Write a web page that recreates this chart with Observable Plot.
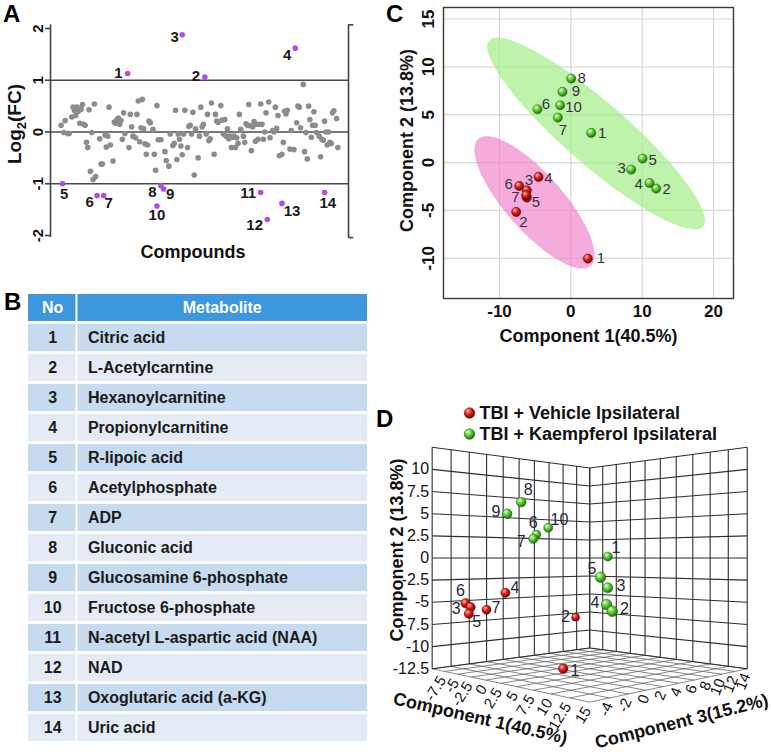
<!DOCTYPE html>
<html><head><meta charset="utf-8">
<script src="https://cdn.jsdelivr.net/npm/d3@7"></script>
<script src="https://cdn.jsdelivr.net/npm/@observablehq/plot@0.6"></script>
<style>
body{margin:0;background:#fff;}
#fig{position:relative;width:771px;height:752px;overflow:hidden;font-family:Arial,"Liberation Sans",sans-serif;}
.plab{position:absolute;font-weight:bold;font-size:24px;line-height:1;color:#000;}
</style></head><body><div id="fig"></div>
<script>
// ---------------- DATA ----------------
// Panel A: compound index and log2 fold change (non-significant compounds)
const otherCompounds = [
 [8,0.13],[10,-0.01],[11,0.22],[13,-0.03],[14,-0.03],[16,0.29],[17,0.48],[18,0.42],[19,0.32],[20,0.48],
 [21,0.40],[22,0.17],[23,0.44],[24,0.53],[25,0.15],[26,0.13],[27,-0.20],[28,-0.30],[29,0.43],[30,-0.76],
 [31,-0.01],[32,-0.92],[33,0.54],[34,-0.86],[37,-0.13],[38,-0.62],[39,-0.62],[41,-0.06],[42,-0.29],[43,-0.08],
 [44,0.48],[45,-0.25],[47,-0.56],[48,0.19],[49,0.17],[50,0.24],[51,0.27],[52,0.15],[53,0.22],[54,-0.14],
 [55,0.37],[56,-0.03],[59,-0.30],[60,0.34],[61,0.10],[62,-0.08],[64,-0.11],[65,0.34],[66,0.60],[67,-0.19],
 [68,0.08],[69,0.63],[70,0.06],[71,-0.23],[72,-0.43],[73,-0.25],[74,0.21],
 [75,0.18],[77,0.05],[78,-0.43],[79,-0.74],[80,0.51],[81,-0.15],[83,-0.15],[86,-0.38],[87,-0.55],[89,-0.66],
 [90,-0.04],[92,-0.26],[93,-0.22],[94,0.42],[95,-0.53],[96,-0.04],[97,-0.14],[98,-0.27],[99,-0.44],[100,-0.04],
 [101,0.42],[103,-0.30],[104,0.11],[105,0.13],[106,-0.04],[107,0.38],[108,-0.83],[109,0.06],[111,-0.50],[112,-0.08],
 [113,0.48],[114,0.10],[115,0.15],[117,-0.04],[118,0.34],[119,-0.17],[120,-0.13],[121,0.56],[123,-0.43],[124,0.34],
 [125,0.21],[126,0.19],[128,0.51],[129,0.23],[130,-0.04],[131,0.24],[132,-0.08],[133,0.06],[134,-0.13],[135,-0.08],
 [136,-0.30],[137,-0.10],[138,-0.08],[139,-0.30],[140,-0.11],[141,-0.22],[142,0.34],
 [143,0.05],[145,-0.08],[146,-0.20],[147,0.16],[148,0.13],[149,0.53],[150,0.12],[151,-0.36],[152,0.10],[153,0.20],
 [154,-0.18],[155,0.15],[156,-0.14],[157,0.15],[158,0.54],[159,0.15],[160,-0.14],[161,0.00],[162,0.37],[164,0.58],
 [165,-0.11],[167,0.03],[168,0.00],[169,0.48],[170,0.07],[171,0.32],[172,-0.46],[174,-0.43],[175,-0.20],[176,0.40],
 [177,0.35],[178,0.42],[180,-0.33],[181,0.03],[183,-0.34],[185,0.18],[186,0.50],[187,0.48],[188,0.08],[190,0.92],
 [191,-0.38],[192,-0.01],[193,-0.52],[194,0.50],[195,0.24],[196,-0.10],[197,0.13],[198,0.39],[199,0.13],[200,-0.01],
 [202,-0.08],[203,-0.48],[204,-0.14],[205,-0.16],[206,0.21],[207,0.00],[208,-0.25],[209,0.00],[210,-0.20],[211,-0.22],
 [212,0.37],[213,0.41],[215,0.26],[216,-0.30]
];
// Panel A: significant compounds (numbered)
const sigNo  = [1,2,3,4,5,6,7,8,9,10,11,12,13,14];
const sigIdx = [58,116,99,184,9,35,40,83,85,80,158,163,174,206];
const sigFC  = [1.13,1.06,1.88,1.62,-1.00,-1.23,-1.23,-1.04,-1.10,-1.43,-1.17,-1.69,-1.38,-1.17];
const fcThresholds = [1, 0, -1];
const fcTicks = [2, 1, 0, -1, -2];

// Panel B: table
const tableHeader = ["No", "Metabolite"];
const metaboliteNo = [1,2,3,4,5,6,7,8,9,10,11,12,13,14];
const metaboliteName = ["Citric acid","L-Acetylcarntine","Hexanoylcarnitine","Propionylcarnitine","R-lipoic acid",
 "Acetylphosphate","ADP","Gluconic acid","Glucosamine 6-phosphate","Fructose 6-phosphate",
 "N-acetyl L-aspartic acid (NAA)","NAD","Oxoglutaric acid (a-KG)","Uric acid"];

// Panel C: PCA scores (component 1, component 2)
const vehNo  = [1,2,3,4,5,6,7];
const vehPC1 = [2.38,-7.66,-6.17,-4.53,-6.17,-7.24,-6.26];
const vehPC2 = [-10.03,-5.16,-2.89,-1.50,-3.66,-2.44,-3.41];
const kaeNo  = [1,2,3,4,5,6,7,8,9,10];
const kaePC1 = [2.85,11.96,8.46,11.03,10.05,-4.67,-1.82,0.05,-1.17,-1.50];
const kaePC2 = [3.10,-2.72,-0.73,-2.13,0.42,5.57,4.70,8.78,7.39,5.99];
const cTicksX = [-10, 0, 10, 20];
const cTicksY = [15, 10, 5, 0, -5, -10];

// Panel D: 3D scores (component 1, component 2, component 3)
const vehD1 = [2.38,-7.66,-6.17,-4.53,-6.17,-7.24,-6.26];
const vehD2 = [-12.05,-7.78,-5.48,-3.95,-6.20,-5.09,-5.90];
const vehD3 = [0.85,10.04,-4.00,-1.13,-4.18,-3.95,-2.21];
const kaeD1 = [2.85,11.96,8.46,11.03,10.05,-4.67,-1.82,0.05,-1.17,-1.50];
const kaeD2 = [0.17,-5.12,-3.07,-4.53,-1.89,2.79,2.16,5.98,4.75,3.45];
const kaeD3 = [6.07,-1.13,1.33,-0.98,-0.84,2.64,0.31,-2.30,-3.04,1.87];
const dGridX = [-10,-7.5,-5,-2.5,0,2.5,5,7.5,10,12.5,15];
const dGridY = [-12.5,-10,-7.5,-5,-2.5,0,2.5,5,7.5,10,12.5];
const dGridZ = [-6,-4,-2,0,2,4,6,8,10,12,14];
const dLabX = [-7.5,-5,-2.5,0,2.5,5,7.5,10,12.5,15];
const dLabY = [10,7.5,5,2.5,0,-2.5,-5,-7.5,-10,-12.5];
const dLabZ = [-4,-2,0,2,4,6,8,10,12,14];
const groupNames = ["TBI + Vehicle Ipsilateral", "TBI + Kaempferol Ipsilateral"];

// ---------------- HELPERS ----------------
const FONT = "Arial, 'Liberation Sans', sans-serif";
const fig = document.getElementById("fig");
function place(el, left, top) { el.style.position = "absolute"; el.style.left = left + "px"; el.style.top = top + "px"; fig.appendChild(el); return el; }
function letter(t, left, top) { const d = document.createElement("div"); d.className = "plab"; d.textContent = t; place(d, left, top); }
function addGrad(svg, list) {
  const defs = d3.select(svg).insert("defs", ":first-child");
  for (const [id, c0, c1, c2] of list) {
    const g = defs.append("radialGradient").attr("id", id).attr("cx", "40%").attr("cy", "38%").attr("r", "62%").attr("fx", "34%").attr("fy", "28%");
    g.append("stop").attr("offset", "0%").attr("stop-color", c0);
    g.append("stop").attr("offset", "50%").attr("stop-color", c1);
    g.append("stop").attr("offset", "100%").attr("stop-color", c2);
  }
}
const GREEN = ["#e4ffcf", "#5ccf34", "#1d6e0c"], RED = ["#ffb7a8", "#e0201a", "#6e0000"];
function svgText(svg, txt, x, y, rot, size, opts = {}) {
  return d3.select(svg).append("text").attr("transform", `translate(${x},${y}) rotate(${rot})`)
    .attr("text-anchor", opts.anchor || "middle").attr("font-family", FONT).attr("font-size", size)
    .attr("font-weight", opts.weight || "bold").attr("fill", opts.fill || "#111").text(txt);
}
function confEllipse(xs, ys, k = 2.4477, n = 120) {
  const N = xs.length, mx = d3.mean(xs), my = d3.mean(ys);
  let sxx = 0, syy = 0, sxy = 0;
  for (let i = 0; i < N; i++) { const dx = xs[i] - mx, dy = ys[i] - my; sxx += dx * dx; syy += dy * dy; sxy += dx * dy; }
  sxx /= N - 1; syy /= N - 1; sxy /= N - 1;
  const tr = sxx + syy, det = sxx * syy - sxy * sxy, q = Math.sqrt(tr * tr / 4 - det);
  const l1 = tr / 2 + q, l2 = tr / 2 - q, th = 0.5 * Math.atan2(2 * sxy, sxx - syy);
  const A = k * Math.sqrt(l1), B = k * Math.sqrt(l2), ct = Math.cos(th), st = Math.sin(th);
  return d3.range(n).map(i => { const t = 2 * Math.PI * i / n; const u = A * Math.cos(t), v = B * Math.sin(t); return {x: mx + u * ct - v * st, y: my + u * st + v * ct}; });
}

// ---------------- PANEL A ----------------
{
  const gray = otherCompounds.map(([i, v]) => ({i, v}));
  const sig = sigNo.map((n, k) => ({n, i: sigIdx[k], v: sigFC[k]}));
  const aLab = [[-5,0,"end"],[-4.7,-1,"end"],[-3.3,2,"end"],[-4,7,"end"],[1.7,10.5,"middle"],[-3.3,7,"end"],[0.7,8,"start"],
                [-4.3,6,"end"],[2.3,5,"start"],[0,9.3,"middle"],[-4.7,1,"end"],[-4.3,6,"end"],[1.7,7.3,"start"],[3.3,11,"middle"]];
  const svg = Plot.plot({
    width: 360, height: 270, marginLeft: 50, marginRight: 12, marginTop: 28, marginBottom: 35,
    style: {fontFamily: FONT, background: "transparent", overflow: "visible"},
    x: {domain: [0, 224], axis: null}, y: {domain: [-2, 2], axis: null},
    marks: [
      Plot.ruleY(fcThresholds, {stroke: "#4a4a4a", strokeWidth: 1.6}),
      Plot.ruleX([0], {y1: -2.04, y2: 2.07, stroke: "#444", strokeWidth: 1.6}),
      Plot.ruleY(fcTicks, {x1: -3.8, x2: 0, stroke: "#444", strokeWidth: 1.6}),
      Plot.ruleX([224], {y1: -2.04, y2: 2.07, stroke: "#444", strokeWidth: 1.6}),
      Plot.ruleY([-2.04, 2.07], {x1: 224, x2: 228, stroke: "#444", strokeWidth: 1.6}),
      Plot.text(fcTicks, {x: 0, y: d => d, text: d => String(d), rotate: -90, dx: -12.5, textAnchor: "middle", lineAnchor: "middle", fontWeight: "bold", fontSize: 15, fill: "#111"}),
      Plot.dot(gray, {x: "i", y: "v", r: 2.8, fill: "#8c8c8c"}),
      Plot.dot(sig, {x: "i", y: "v", r: 2.8, fill: "#b04ee8"}),
      ...sig.map((d, k) => Plot.text([d], {x: "i", y: "v", text: d => String(d.n), dx: aLab[k][0], dy: aLab[k][1], textAnchor: aLab[k][2], fontWeight: "bold", fontSize: 15, fill: "#1a1a1a"}))
    ]
  });
  const t = d3.select(svg).append("text").attr("transform", "translate(21,124) rotate(-90)").attr("text-anchor", "middle")
    .attr("font-family", FONT).attr("font-weight", "bold").attr("font-size", 19).attr("fill", "#111");
  t.append("tspan").text("Log");
  t.append("tspan").attr("font-size", 13).attr("dy", 5).text("2");
  t.append("tspan").attr("dy", -5).text("(FC)");
  svgText(svg, "Compounds", 193, 258, 0, 18);
  place(svg, 0, 0);
  letter("A", 3, 2);
}

// ---------------- PANEL B ----------------
{
  const rows = [{key: "h", no: tableHeader[0], name: tableHeader[1], kind: "head"},
    ...metaboliteNo.map((n, i) => ({key: String(n), no: String(n), name: metaboliteName[i], kind: i % 2 === 0 ? "odd" : "even"}))];
  const fillB = {head: "#3d97dd", odd: "#c6dbef", even: "#e4ebf5"};
  const svg = Plot.plot({
    width: 339, height: 457, margin: 0,
    style: {fontFamily: FONT, background: "transparent", overflow: "visible"},
    x: {domain: [0, 7], axis: null},
    y: {type: "band", domain: rows.map(d => d.key), paddingInner: 0.09, paddingOuter: 0.02, axis: null},
    color: {type: "identity"},
    marks: [
      Plot.barX(rows, {x1: 0, x2: 1, y: "key", fill: d => fillB[d.kind], insetRight: 1}),
      Plot.barX(rows, {x1: 1, x2: 7, y: "key", fill: d => fillB[d.kind], insetLeft: 1}),
      Plot.text(rows, {x: 0.5, y: "key", text: "no", fill: d => d.kind === "head" ? "#ffffff" : "#1a1a1a", fontWeight: "bold", fontSize: 16}),
      Plot.text(rows.filter(d => d.kind === "head"), {x: 4, y: "key", text: "name", fill: "#ffffff", fontWeight: "bold", fontSize: 16}),
      Plot.text(rows.filter(d => d.kind !== "head"), {x: 1, dx: 11, y: "key", text: "name", textAnchor: "start", fill: "#1a1a1a", fontWeight: "bold", fontSize: 16})
    ]
  });
  place(svg, 28, 289);
  letter("B", 4, 290);
}

// ---------------- PANEL C ----------------
{
  const veh = vehNo.map((n, i) => ({n, x: vehPC1[i], y: vehPC2[i]}));
  const kae = kaeNo.map((n, i) => ({n, x: kaePC1[i], y: kaePC2[i]}));
  const cVehLab = [[9,0,"start"],[3,10,"start"],[2,-10,"middle"],[5.7,1.7,"start"],[5,5,"start"],[-6.3,-1.3,"end"],[-6.7,1.7,"end"]];
  const cKaeLab = [[6.7,0.7,"start"],[6.3,1,"start"],[-5.3,-1,"end"],[-6.7,1.7,"end"],[6,1.7,"start"],[4.3,-4.7,"start"],[5,12.7,"middle"],[6.3,0,"start"],[9.3,-1,"start"],[5,2.3,"start"]];
  const labMarks = (arr, offs) => arr.map((d, k) => Plot.text([d], {x: "x", y: "y", text: d => String(d.n), dx: offs[k][0], dy: offs[k][1], textAnchor: offs[k][2], fontSize: 15, fill: "#333340"}));
  const svg = Plot.plot({
    width: 401, height: 352, marginLeft: 73, marginRight: 38, marginTop: 7, marginBottom: 54,
    style: {fontFamily: FONT, background: "transparent", overflow: "visible"},
    x: {domain: [-17.85, 22.8], axis: null}, y: {domain: [-14.2, 16.2], axis: null},
    marks: [
      Plot.ruleX(cTicksX, {stroke: "#d8d8d8", strokeWidth: 1.2}),
      Plot.ruleY(cTicksY, {stroke: "#d8d8d8", strokeWidth: 1.2}),
      Plot.line(confEllipse(kaePC1, kaePC2), {x: "x", y: "y", curve: "linear-closed", fill: "#a6ee8a", fillOpacity: 0.72, stroke: "none"}),
      Plot.line(confEllipse(vehPC1, vehPC2), {x: "x", y: "y", curve: "linear-closed", fill: "#ef7fcb", fillOpacity: 0.65, stroke: "none"}),
      Plot.dot(veh, {x: "x", y: "y", r: 4.6, fill: "url(#cR)", stroke: "#5a0808", strokeWidth: 0.5}),
      Plot.dot(kae, {x: "x", y: "y", r: 4.6, fill: "url(#cG)", stroke: "#25590f", strokeWidth: 0.5}),
      ...labMarks(veh, cVehLab), ...labMarks(kae, cKaeLab),
      Plot.frame({stroke: "#3a3a3a", strokeWidth: 1.4}),
      Plot.text(cTicksX, {x: d => d, frameAnchor: "bottom", dy: 13, textAnchor: "middle", lineAnchor: "middle", text: d => String(d), fontWeight: "bold", fontSize: 17, fill: "#111"}),
      Plot.text(cTicksY, {y: d => d, frameAnchor: "left", dx: -14.5, rotate: -90, textAnchor: "middle", lineAnchor: "middle", text: d => String(d), fontWeight: "bold", fontSize: 17, fill: "#111"}),
      Plot.text(["Component 1(40.5%)"], {frameAnchor: "bottom", dy: 38, textAnchor: "middle", lineAnchor: "middle", text: d => d, fontWeight: "bold", fontSize: 18, fill: "#111"}),
      Plot.text(["Component 2 (13.8%)"], {frameAnchor: "left", dx: -36.5, dy: -12.5, rotate: -90, textAnchor: "middle", lineAnchor: "middle", text: d => d, fontWeight: "bold", fontSize: 18, fill: "#111"})
    ]
  });
  addGrad(svg, [["cG", ...GREEN], ["cR", ...RED]]);
  place(svg, 370, 0);
  letter("C", 386, 2);
}

// ---------------- PANEL D ----------------
{
  // perspective view of the 3D box (camera parameters)
  const cam = {D: 6.11, cx: 209.2, cy: 177.5, sx: 111.4, sy: 110.8};
  const bx = [dGridX[0], dGridX[dGridX.length - 1]], by = [dGridY[0], dGridY[dGridY.length - 1]], bz = [dGridZ[0], dGridZ[dGridZ.length - 1]];
  function project(X, Y, Z) {
    const a = 2 * (X - bx[0]) / (bx[1] - bx[0]) - 1, h = 2 * (Y - by[0]) / (by[1] - by[0]) - 1, c = 2 * (Z - bz[0]) / (bz[1] - bz[0]) - 1;
    const u = (a + c) / Math.SQRT2, dz = (a - c) / Math.SQRT2, s = cam.D / (cam.D - dz);
    return {px: cam.cx + cam.sx * u * s, py: cam.cy - cam.sy * h * s, s};
  }
  const seg = (p, q, kind) => { const A = project(...p), B = project(...q); return {x1: A.px, y1: A.py, x2: B.px, y2: B.py, kind}; };
  const segs = [];
  for (const z of dGridZ) segs.push(seg([bx[0], by[0], z], [bx[0], by[1], z], "wall"));
  for (const y of dGridY) segs.push(seg([bx[0], y, bz[0]], [bx[0], y, bz[1]], "wall"));
  for (const x of dGridX) segs.push(seg([x, by[0], bz[1]], [x, by[1], bz[1]], "wall"));
  for (const y of dGridY) segs.push(seg([bx[0], y, bz[1]], [bx[1], y, bz[1]], "wall"));
  for (const x of dGridX) segs.push(seg([x, by[0], bz[0]], [x, by[0], bz[1]], "floor"));
  for (const z of dGridZ) segs.push(seg([bx[0], by[0], z], [bx[1], by[0], z], "floor"));

  const dVehLab = [[7.3,1.7,"start"],[-5.7,0,"end"],[-10,1.7,"end"],[5,-5,"start"],[7.7,8.3,"middle"],[-5,-12,"middle"],[5,-2,"start"]];
  const dKaeLab = [[3.7,-8.7,"start"],[7.7,-2.3,"start"],[8.7,-1.7,"start"],[-7,-1.3,"end"],[-4,-8.3,"end"],[-3.3,-11.3,"middle"],[-7.7,3.3,"end"],[7,-12,"middle"],[-6.7,-2,"end"],[2.3,-8.3,"start"]];
  const pts = [
    ...vehNo.map((n, i) => ({n, g: "veh", lab: dVehLab[i], ...project(vehD1[i], vehD2[i], vehD3[i])})),
    ...kaeNo.map((n, i) => ({n, g: "kae", lab: dKaeLab[i], ...project(kaeD1[i], kaeD2[i], kaeD3[i])}))
  ].sort((a, b) => a.s - b.s);

  const yl = dLabY.map(v => ({v, ...project(bx[0], v, bz[0])}));
  const xl = dLabX.map(v => ({v, ...project(v, by[0], bz[0])}));
  const zl = dLabZ.map(v => ({v, ...project(bx[1], by[0], v)}));

  const svg = Plot.plot({
    width: 391, height: 372, margin: 0,
    style: {fontFamily: FONT, background: "transparent", overflow: "visible"},
    x: {type: "identity", axis: null}, y: {type: "identity", axis: null}, r: {type: "identity"}, color: {type: "identity"},
    marks: [
      Plot.link(segs.filter(d => d.kind === "floor"), {x1: "x1", y1: "y1", x2: "x2", y2: "y2", stroke: "#6a6a6a", strokeWidth: 0.8}),
      Plot.link(segs.filter(d => d.kind === "wall"), {x1: "x1", y1: "y1", x2: "x2", y2: "y2", stroke: "#2e2e2e", strokeWidth: 1.1}),
      Plot.text(yl, {x: "px", y: "py", text: d => String(d.v), dx: -3, textAnchor: "end", fontSize: 16, fill: "#111"}),
      Plot.text(xl, {x: "px", y: "py", text: d => String(d.v), dx: -2, dy: 6, rotate: -58, textAnchor: "end", fontSize: 15, fill: "#111"}),
      Plot.text(zl, {x: "px", y: "py", text: d => String(d.v), dx: -1, dy: 5, rotate: -68, textAnchor: "end", fontSize: 15, fill: "#111"}),
      Plot.dot(pts, {x: "px", y: "py", r: d => 4.6 * d.s, fill: d => d.g === "veh" ? "url(#dR)" : "url(#dG)", stroke: d => d.g === "veh" ? "#5a0808" : "#25590f", strokeWidth: 0.5, sort: null}),
      ...pts.map(d => Plot.text([d], {x: "px", y: "py", text: d => String(d.n), dx: d.lab[0], dy: d.lab[1], textAnchor: d.lab[2], fontSize: 16, fill: "#262640"}))
    ]
  });
  addGrad(svg, [["dG", ...GREEN], ["dR", ...RED]]);
  svgText(svg, "Component 2 (13.8%)", 23, 170, -90, 18);
  svgText(svg, "Component 1(40.5%)", 99, 344, 13, 18);
  svgText(svg, "Component 3(15.2%)", 303, 347, -14, 18);
  place(svg, 380, 380);

  // legend
  const leg = Plot.plot({
    width: 300, height: 46, margin: 0,
    style: {fontFamily: FONT, background: "transparent", overflow: "visible"},
    x: {axis: null}, y: {type: "band", domain: groupNames, axis: null}, color: {type: "identity"},
    marks: [
      Plot.dot(groupNames, {y: d => d, frameAnchor: "left", dx: 9, r: 5.3, fill: d => d === groupNames[0] ? "url(#lR)" : "url(#lG)", stroke: d => d === groupNames[0] ? "#5a0808" : "#25590f", strokeWidth: 0.5}),
      Plot.text(groupNames, {y: d => d, frameAnchor: "left", dx: 19, text: d => d, textAnchor: "start", fontWeight: "bold", fontSize: 18, fill: "#111"})
    ]
  });
  addGrad(leg, [["lG", ...GREEN], ["lR", ...RED]]);
  place(leg, 460, 400);
  letter("D", 376, 407);
}
</script></body></html>
